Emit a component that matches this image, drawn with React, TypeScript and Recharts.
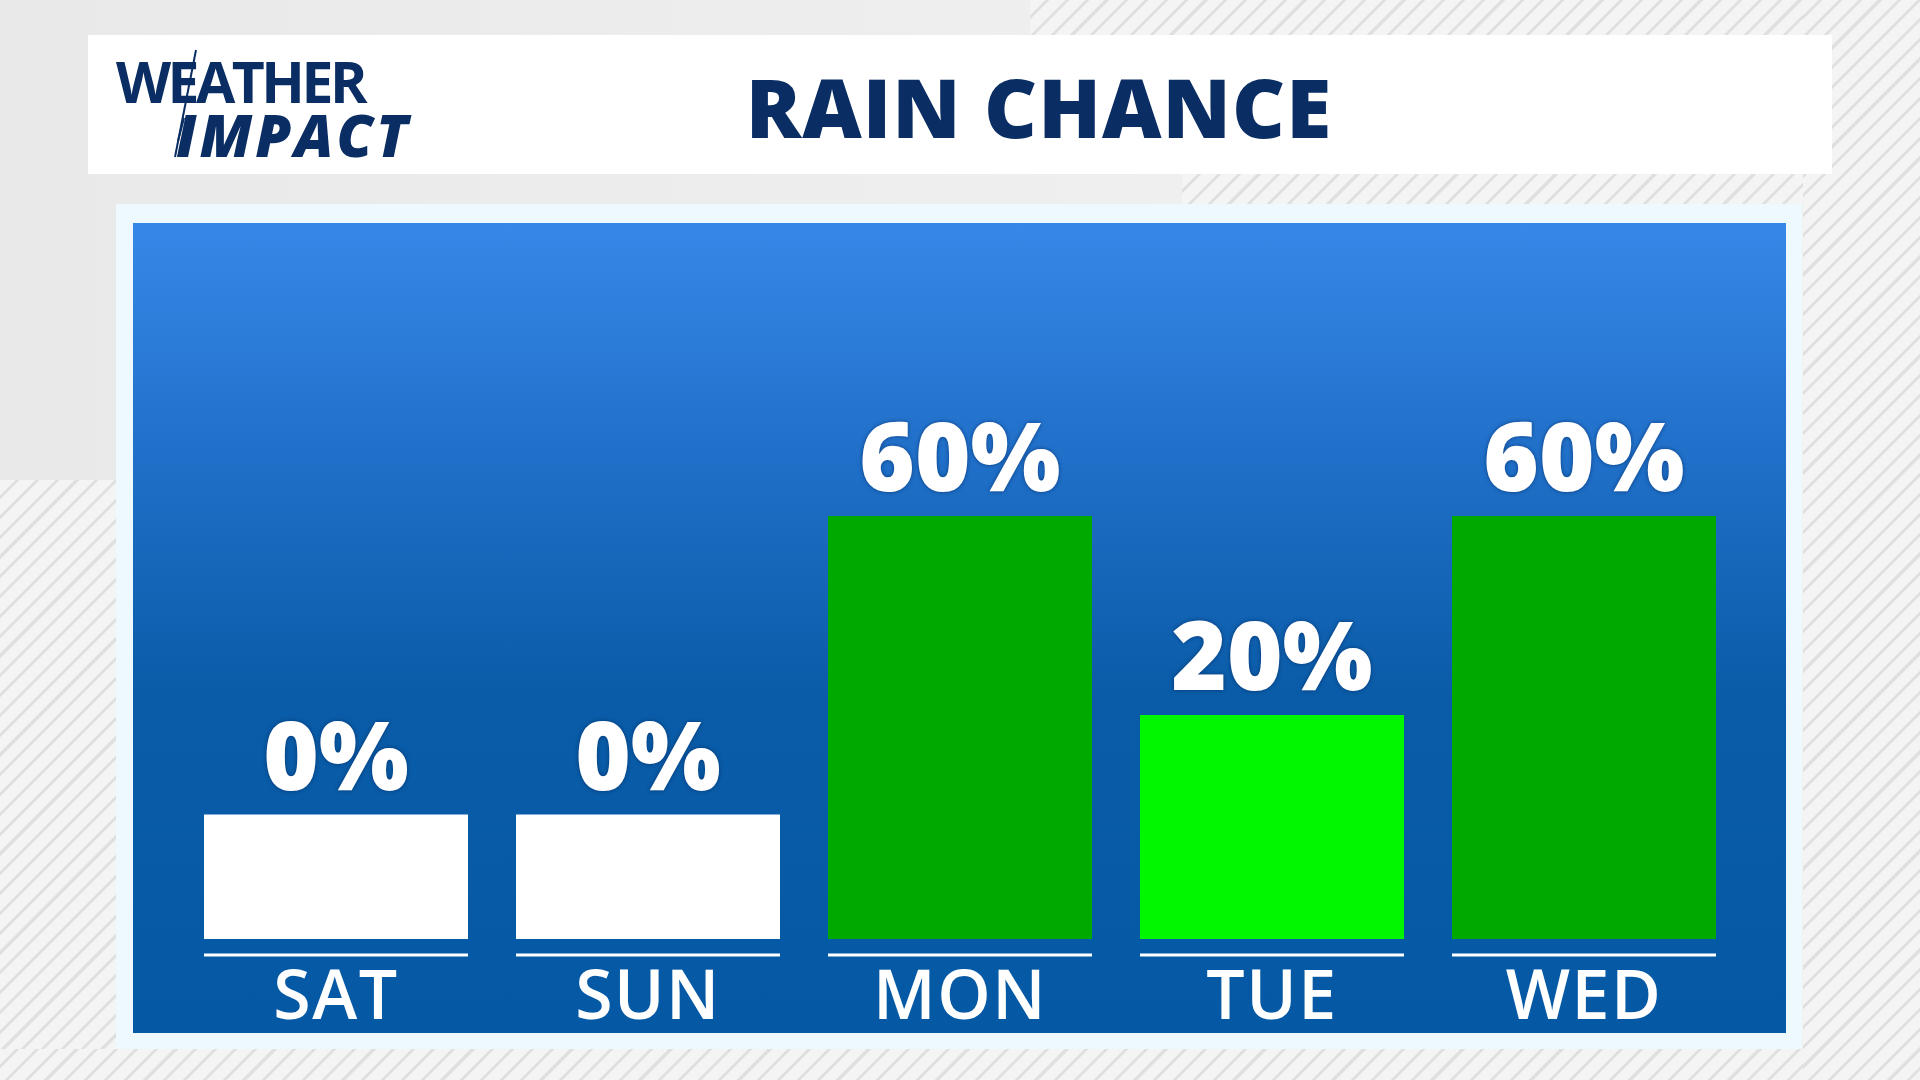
import React from "react";
import { Bar, BarChart, Cell, LabelList, XAxis, YAxis } from "recharts";

// rain chance per day (percent)
const days = ["SAT", "SUN", "MON", "TUE", "WED"];
const rainPct = [0, 0, 60, 20, 60];
const barColors = ["#ffffff", "#ffffff", "#00a900", "#00f700", "#00a900"];

// bars sit on a floor below zero so a 0% day still shows a block
const FLOOR = -25;
const TOP = 100;

const data = days.map((day, i) => ({ day, pct: rainPct[i] }));

const BAR_SIZE = 264;
const NAVY = "#0a2d64";
const FONT = "'Open Sans', 'Noto Sans', sans-serif";

const stripes = "repeating-linear-gradient(135deg, rgba(0,0,0,0) 0px, rgba(0,0,0,0) 11px, #e0e0e0 11px, #e0e0e0 14px)";

const DayTick = (props: any) => {
  const { x, y, payload } = props;
  const half = BAR_SIZE / 2;
  return (
    <g>
      <line x1={x - half} x2={x + half} y1={y + 16} y2={y + 16} stroke="#ffffff" strokeWidth={3} />
      <text
        x={x}
        y={y + 80}
        textAnchor="middle"
        fill="#ffffff"
        fontFamily={FONT}
        fontWeight={600}
        fontSize={68}
        letterSpacing={1.5}
      >
        {payload.value}
      </text>
    </g>
  );
};

function StripeBox({ left, top, width, height }: { left: number; top: number; width: number; height: number }) {
  return (
    <div
      style={{
        position: "absolute",
        left,
        top,
        width,
        height,
        background: `${stripes}, #f4f4f4`,
      }}
    />
  );
}

export default function App() {
  return (
    <div
      style={{
        position: "absolute",
        left: 0,
        top: 0,
        width: 1920,
        height: 1080,
        overflow: "hidden",
        background: "linear-gradient(90deg, #e9e9e9 0%, #f3f3f3 100%)",
      }}
    >
      <StripeBox left={0} top={480} width={116} height={600} />
      <StripeBox left={0} top={1049} width={1920} height={31} />
      <StripeBox left={1030} top={0} width={890} height={35} />
      <StripeBox left={1182} top={174} width={738} height={30} />
      <StripeBox left={1803} top={0} width={117} height={1080} />

      {/* header */}
      <div style={{ position: "absolute", left: 88, top: 35, width: 1744, height: 139, background: "#ffffff" }} />
      <svg style={{ position: "absolute", left: 0, top: 0 }} width={1920} height={200}>
        {/* logo: two lines in one text block */}
        <text fill={NAVY} fontFamily={FONT}>
          <tspan x={116} y={103} fontWeight={700} fontSize={57} letterSpacing={-3.5}>
            WEATHER
          </tspan>
          <tspan x={176} y={157} fontWeight={800} fontStyle="italic" fontSize={58} letterSpacing={3}>
            IMPACT
          </tspan>
        </text>
        <line x1={196} y1={50} x2={175} y2={157} stroke={NAVY} strokeWidth={2} />
        <line x1={184} y1={118} x2={178} y2={141} stroke={NAVY} strokeWidth={2} />
        <text
          x={1039}
          y={138}
          textAnchor="middle"
          fill={NAVY}
          fontFamily={FONT}
          fontWeight={800}
          fontSize={82}
          letterSpacing={1}
        >
          RAIN CHANCE
        </text>
      </svg>

      {/* chart panel */}
      <div style={{ position: "absolute", left: 116, top: 204, width: 1686, height: 845, background: "#edf9fd" }} />
      <div
        style={{
          position: "absolute",
          left: 133,
          top: 223,
          width: 1653,
          height: 810,
          background: "linear-gradient(180deg, #3787e8 0%, #1f6fc8 30%, #0a5ca8 58%, #0559a4 100%)",
        }}
      />
      <div style={{ position: "absolute", left: 133, top: 223 }}>
        <BarChart width={1653} height={850} data={data} margin={{ top: 94, right: 46, bottom: 40, left: 47 }}>
          <XAxis
            dataKey="day"
            axisLine={false}
            tickLine={false}
            tickSize={0}
            tickMargin={0}
            height={94}
            interval={0}
            tick={<DayTick />}
          />
          <YAxis hide domain={[FLOOR, TOP]} allowDataOverflow />
          <Bar dataKey={(d: any) => [FLOOR, d.pct]} barSize={BAR_SIZE} isAnimationActive={false}>
            {data.map((d, i) => (
              <Cell key={d.day} fill={barColors[i]} />
            ))}
            <LabelList
              dataKey="pct"
              position="top"
              offset={25}
              formatter={(v: any) => `${v}%`}
              fill="#ffffff"
              fontFamily={FONT}
              fontWeight={800}
              fontSize={95}
              style={{ filter: "drop-shadow(0px 0px 2px rgba(0,30,80,0.6))" }}
            />
          </Bar>
        </BarChart>
      </div>
    </div>
  );
}
